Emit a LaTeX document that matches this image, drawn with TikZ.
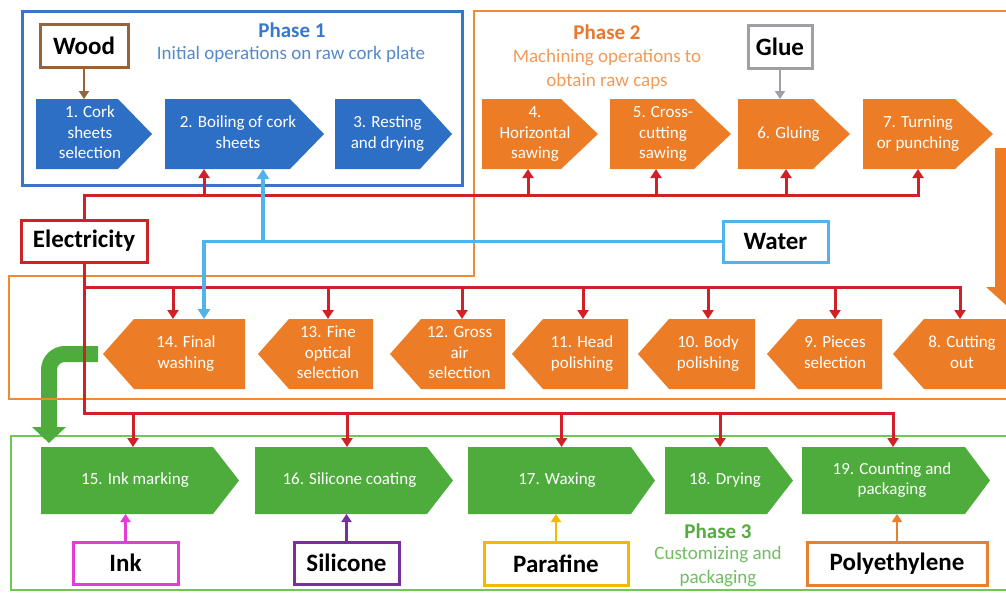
\documentclass[tikz,border=0pt]{standalone}
\usepackage{fontspec}
\setmainfont{Carlito}
\usetikzlibrary{arrows.meta}
\pgfdeclarelayer{background}
\pgfsetlayers{background,main}

\definecolor{procblue}{RGB}{46,111,198}
\definecolor{procorange}{RGB}{236,125,38}
\definecolor{procgreen}{RGB}{78,172,60}
\definecolor{phaseblue}{RGB}{58,116,196}
\definecolor{phaseorange}{RGB}{238,138,52}
\definecolor{phasegreen}{RGB}{112,200,84}
\definecolor{elecred}{RGB}{208,32,40}
\definecolor{waterblue}{RGB}{80,180,235}
\definecolor{woodbrown}{RGB}{150,100,60}
\definecolor{gluegray}{RGB}{160,160,164}
\definecolor{inkmagenta}{RGB}{230,60,215}
\definecolor{silpurple}{RGB}{120,45,160}
\definecolor{paryellow}{RGB}{242,185,0}
\definecolor{polyorange}{RGB}{232,128,45}
\definecolor{titleone}{RGB}{58,120,205}
\definecolor{subone}{RGB}{84,138,204}
\definecolor{titletwo}{RGB}{232,120,45}
\definecolor{subtwo}{RGB}{240,155,90}
\definecolor{titlethree}{RGB}{85,170,65}
\definecolor{subthree}{RGB}{112,190,96}

% centred lines of a process label, moved sideways by half of #1
\newcommand\ptext[2]{\hspace*{#1}\begin{tabular}{@{}c@{}}#2\end{tabular}}

\begin{document}
\begin{tikzpicture}[x=1pt,y=-1pt,
  every node/.style={inner sep=0pt,outer sep=0pt},
  proc/.style={text=white,font=\fontsize{17}{20.5}\selectfont},
  pentR/.style n args={4}{proc,minimum width=#2,minimum height=#4,
    path picture={\fill[#1] (path picture bounding box.north west)
      -- ([xshift=-#3]path picture bounding box.north east)
      -- (path picture bounding box.east)
      -- ([xshift=-#3]path picture bounding box.south east)
      -- (path picture bounding box.south west) -- cycle;}},
  pentL/.style n args={4}{proc,minimum width=#2,minimum height=#4,
    path picture={\fill[#1] (path picture bounding box.north east)
      -- ([xshift=#3]path picture bounding box.north west)
      -- (path picture bounding box.west)
      -- ([xshift=#3]path picture bounding box.south west)
      -- (path picture bounding box.south east) -- cycle;}},
  matbox/.style={draw=#1,line width=3pt,fill=white,minimum height=43pt,
    text=black,font=\bfseries\fontsize{25}{30}\selectfont},
  matarrow/.style={draw=#1,line width=2.5pt,-{Triangle[width=10pt,length=8pt]}},
  elecline/.style={draw=elecred,line width=3pt,-{Triangle[width=11pt,length=9pt]}},
  waterline/.style={draw=waterblue,line width=3.5pt,-{Triangle[width=12pt,length=10pt]}},
  ptitle/.style={font=\bfseries\fontsize{21}{25}\selectfont,text=#1},
  psub/.style={font=\fontsize{19}{24}\selectfont,text=#1,align=center},
]
\useasboundingbox (0,0) rectangle (1006,592);

% ---------- Phase 1: raw cork plate ----------
\node[pentR={procblue}{116pt}{34pt}{70pt}] (b1) at (94,134) {\ptext{-8pt}{1. Cork\\sheets\\selection}};
\node[pentR={procblue}{159pt}{34pt}{70pt}] (b2) at (244.5,134) {\ptext{-13pt}{2. Boiling of cork\\sheets}};
\node[pentR={procblue}{117pt}{32pt}{70pt}] (b3) at (393.5,134) {\ptext{-12pt}{3. Resting\\and drying}};

% ---------- Phase 2: machining ----------
\node[pentR={procorange}{116pt}{37pt}{70pt}] (b4) at (540,134) {\ptext{-10pt}{4.\\Horizontal\\sawing}};
\node[pentR={procorange}{121pt}{37pt}{70pt}] (b5) at (670.5,134) {\ptext{-15pt}{5. Cross-\\cutting\\sawing}};
\node[pentR={procorange}{112pt}{37pt}{70pt}] (b6) at (794,134) {\ptext{-11pt}{6. Gluing}};
\node[pentR={procorange}{130pt}{38pt}{70pt}] (b7) at (928,134) {\ptext{-20pt}{7. Turning\\or punching}};

\node[pentL={procorange}{117pt}{31pt}{70pt}] (b8) at (951.5,354) {\ptext{21pt}{8. Cutting\\out}};
\node[pentL={procorange}{115pt}{31pt}{70pt}] (b9) at (824.5,354) {\ptext{21pt}{9. Pieces\\selection}};
\node[pentL={procorange}{117pt}{31pt}{70pt}] (b10) at (696.5,354) {\ptext{23pt}{10. Body\\polishing}};
\node[pentL={procorange}{116pt}{31pt}{70pt}] (b11) at (570,354) {\ptext{24pt}{11. Head\\polishing}};
\node[pentL={procorange}{115pt}{31pt}{70pt}] (b12) at (447.5,354) {\ptext{24pt}{12. Gross\\air\\selection}};
\node[pentL={procorange}{115pt}{31pt}{70pt}] (b13) at (315.5,354) {\ptext{25pt}{13. Fine\\optical\\selection}};
\node[pentL={procorange}{142pt}{31pt}{70pt}] (b14) at (174,354) {\ptext{24pt}{14. Final\\washing}};

% ---------- Phase 3: customizing and packaging ----------
\node[pentR={procgreen}{198pt}{26pt}{67pt}] (b15) at (140,480.5) {\ptext{-10pt}{15. Ink marking}};
\node[pentR={procgreen}{198pt}{26pt}{67pt}] (b16) at (354,480.5) {\ptext{-9pt}{16. Silicone coating}};
\node[pentR={procgreen}{187pt}{24pt}{67pt}] (b17) at (561.5,480.5) {\ptext{-9pt}{17. Waxing}};
\node[pentR={procgreen}{128pt}{26pt}{67pt}] (b18) at (729,480.5) {\ptext{-8pt}{18. Drying}};
\node[pentR={procgreen}{188pt}{25pt}{67pt}] (b19) at (896,480.5) {\ptext{-8pt}{19. Counting and\\packaging}};

% ---------- phase titles ----------
\node[ptitle=titleone] (ph1) at (292,30) {Phase 1};
\node[psub=subone] (ph1s) at (291,54) {Initial operations on raw cork plate};
\node[ptitle=titletwo] (ph2) at (607,32) {Phase 2};
\node[psub=subtwo] (ph2s) at (607,69) {Machining operations to\\obtain raw caps};
\node[ptitle=titlethree] (ph3) at (718,531) {Phase 3};
\node[psub=subthree] (ph3s) at (718,567) {Customizing and\\packaging};

% ---------- inputs ----------
\node[matbox=woodbrown,minimum width=88pt] (wood) at (84,45.5) {Wood};
\node[matbox=gluegray,minimum width=64pt] (glue) at (780,46.5) {Glue};
\node[matbox=elecred,minimum width=126pt,minimum height=42pt] (elec) at (84,241) {Electricity};
\node[matbox=waterblue,minimum width=105pt,minimum height=41pt] (water) at (775.5,241.5) {Water};
\node[matbox=inkmagenta,minimum width=105pt,minimum height=42pt] (ink) at (125.5,563) {Ink};
\node[matbox=silpurple,minimum width=105pt,minimum height=42pt] (silicone) at (346.5,563) {Silicone};
\node[matbox=paryellow,minimum width=144pt] (parafine) at (556,563.5) {Parafine};
\node[matbox=polyorange,minimum width=180pt] (poly) at (897,563.5) {Polyethylene};

% ---------- phase frames and flow between phases ----------
\begin{pgfonlayer}{background}
  \fill[white] (0,0) rectangle (1006,592);
  \draw[phasegreen,line width=2.5pt] (11,436) rectangle (1014,590);
  \draw[procgreen,line width=16pt,rounded corners=16pt]
    ([xshift=-5pt]b14.west) -- (49,354) -- (49,428);
  \fill[procgreen] (32,427) -- (66,427) -- (49,443) -- cycle;
  \draw[phaseorange,line width=2.5pt]
    (474,11) -- (1014,11) -- (1014,399) -- (9,399) -- (9,276) -- (474,276) -- cycle;
  \draw[phaseblue,line width=3pt] (22,11) rectangle (462,185);
\end{pgfonlayer}
\fill[procorange] (995,148) -- (1017,148) -- (1017,287) -- (1026,287)
  -- (1006,305) -- (986,287) -- (995,287) -- cycle;

% ---------- supply lines ----------
\coordinate (busA) at (0,195);
\coordinate (busB) at (0,287);
\coordinate (busC) at (0,413);
\coordinate (u2) at ([xshift=-40.5pt]b2.south);
\coordinate (u4) at ([xshift=-12pt]b4.south);
\coordinate (u5) at ([xshift=-14.5pt]b5.south);
\coordinate (u6) at ([xshift=-8pt]b6.south);
\coordinate (u7) at ([xshift=-10pt]b7.south);
\coordinate (wt2) at ([xshift=18.5pt]b2.south);
\coordinate (wt14) at ([xshift=30pt]b14.north);
\coordinate (d14) at ([xshift=-1pt]b14.north);
\coordinate (d13) at ([xshift=12.5pt]b13.north);
\coordinate (d12) at ([xshift=14.5pt]b12.north);
\coordinate (d11) at ([xshift=13pt]b11.north);
\coordinate (d10) at ([xshift=11.5pt]b10.north);
\coordinate (d9) at ([xshift=10.5pt]b9.north);
\coordinate (d8) at ([xshift=8.5pt]b8.north);
\coordinate (e15) at ([xshift=-7pt]b15.north);
\coordinate (e16) at ([xshift=-7pt]b16.north);
\coordinate (e17) at (b17.north);
\coordinate (e18) at ([xshift=-9pt]b18.north);
\coordinate (e19) at ([xshift=-3pt]b19.north);

\draw[elecline] (elec.north) |- (u7 |- busA) -- (u7);
\foreach \t in {u2,u4,u5,u6} \draw[elecline] (\t |- busA) -- (\t);
\draw[elecline] (elec.south) |- (e19 |- busC) -- (e19);
\foreach \t in {e15,e16,e17,e18} \draw[elecline] (\t |- busC) -- (\t);
\draw[elecline] (elec.south |- busB) -| (d8);
\foreach \t in {d14,d13,d12,d11,d10,d9} \draw[elecline] (\t |- busB) -- (\t);

\draw[waterline] (water.west) -| (wt14);
\draw[waterline] (wt2 |- water.west) -- (wt2);

\draw[matarrow=woodbrown] (wood.south) -- (wood.south |- b1.north);
\draw[matarrow=gluegray] (glue.south) -- (glue.south |- b6.north);
\draw[matarrow=inkmagenta] (ink.north) -- (ink.north |- b15.south);
\draw[matarrow=silpurple] (silicone.north) -- (silicone.north |- b16.south);
\draw[matarrow=paryellow] (parafine.north) -- (parafine.north |- b17.south);
\draw[matarrow=polyorange] (poly.north) -- (poly.north |- b19.south);
\end{tikzpicture}
\end{document}
